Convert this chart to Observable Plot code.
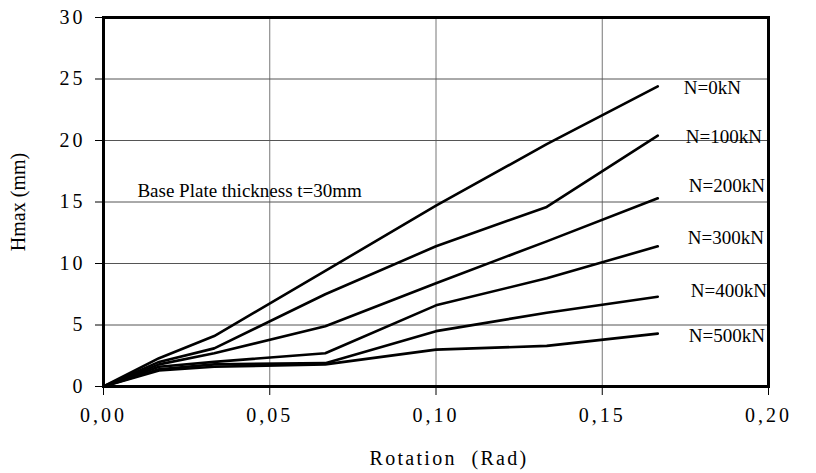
<!DOCTYPE html>
<html><head><meta charset="utf-8">
<script src="https://cdn.jsdelivr.net/npm/d3@7"></script>
<script src="https://cdn.jsdelivr.net/npm/@observablehq/plot@0.6"></script>
<style>
body{margin:0;background:#fff;}
g[aria-label="x-axis tick label"] text, g[aria-label="y-axis tick label"] text {letter-spacing: 3px;}
g.xlabel text {letter-spacing: 2.3px;}
</style>
</head><body><div id="chart"></div>
<script>
const rotations = [0, 0.0167, 0.0333, 0.0667, 0.10, 0.1333, 0.1667];
const seriesNames = ["N=0kN","N=100kN","N=200kN","N=300kN","N=400kN","N=500kN"];
const n0   = [0, 2.3, 4.1, 9.4, 14.7, 19.7, 24.4];
const n100 = [0, 2.0, 3.1, 7.5, 11.4, 14.6, 20.4];
const n200 = [0, 1.8, 2.7, 4.9, 8.4, 11.8, 15.3];
const n300 = [0, 1.6, 2.0, 2.7, 6.6, 8.8, 11.4];
const n400 = [0, 1.4, 1.8, 1.9, 4.5, 6.0, 7.3];
const n500 = [0, 1.3, 1.6, 1.8, 3.0, 3.3, 4.3];
const xTicks = [0, 0.05, 0.10, 0.15, 0.20];
const yTicks = [0, 5, 10, 15, 20, 25, 30];
const labelY = [24.3, 20.3, 16.3, 12.1, 7.8, 4.15];
const labelDx = [26, 28, 31, 30, 33, 31];
const annotation = "Base Plate thickness t=30mm";
const xLabel = "Rotation  (Rad)";
const yLabel = "Hmax (mm)";

const allSeries = [n0, n100, n200, n300, n400, n500];
const data = allSeries.flatMap((s, i) => s.map((v, j) => ({x: rotations[j], y: v, name: seriesNames[i]})));
const labels = seriesNames.map((n, i) => ({x: rotations[rotations.length - 1], y: labelY[i], name: n, dx: labelDx[i]}));

const fmtX = d => d3.format(".2f")(d).replace(".", ",");
const FONT = "Liberation Serif";

const chart = Plot.plot({
  width: 816, height: 473,
  marginLeft: 103, marginRight: 48, marginTop: 17, marginBottom: 87,
  style: {fontFamily: FONT, fontSize: "20px", background: "#fff"},
  x: {domain: [0, 0.2]},
  y: {domain: [0, 30]},
  marks: [
    Plot.gridX(xTicks.slice(1, -1), {stroke: "#777", strokeOpacity: 1, strokeWidth: 1}),
    Plot.gridY(yTicks.slice(1, -1), {stroke: "#555", strokeOpacity: 1, strokeWidth: 1}),
    Plot.axisX(xTicks, {tickFormat: fmtX, tickSize: 9, tickPadding: 12, fontSize: 20, fontFamily: FONT, label: null}),
    Plot.axisY(yTicks, {tickFormat: d => String(d), tickSize: 8, tickPadding: 10, fontSize: 20, fontFamily: FONT,
      label: yLabel, labelAnchor: "center", labelArrow: "none", labelOffset: 93}),
    Plot.text([xLabel], {frameAnchor: "bottom", lineAnchor: "middle", text: d => d, dy: 72, dx: 13, fontSize: 20, fontFamily: FONT, fill: "#000", className: "xlabel"}),
    Plot.line(data, {x: "x", y: "y", z: "name", stroke: "#000", strokeWidth: 2.6}),
    Plot.text(labels, {x: "x", y: "y", text: "name", textAnchor: "start", fontSize: 19, fontFamily: FONT, fill: "#000",
      render: (index, scales, values, dims, ctx, next) => next(index, scales, {...values, x: Float64Array.from(values.x, (v, k) => v + labels[k].dx)}, dims, ctx)}),
    Plot.text([{x: 0.0102, y: 15.9}], {x: "x", y: "y", text: () => annotation, textAnchor: "start", fontSize: 19, fontFamily: FONT, fill: "#000"}),
    Plot.frame({stroke: "#000", strokeWidth: 3})
  ]
});
document.getElementById("chart").append(chart);
</script>
</body></html>
